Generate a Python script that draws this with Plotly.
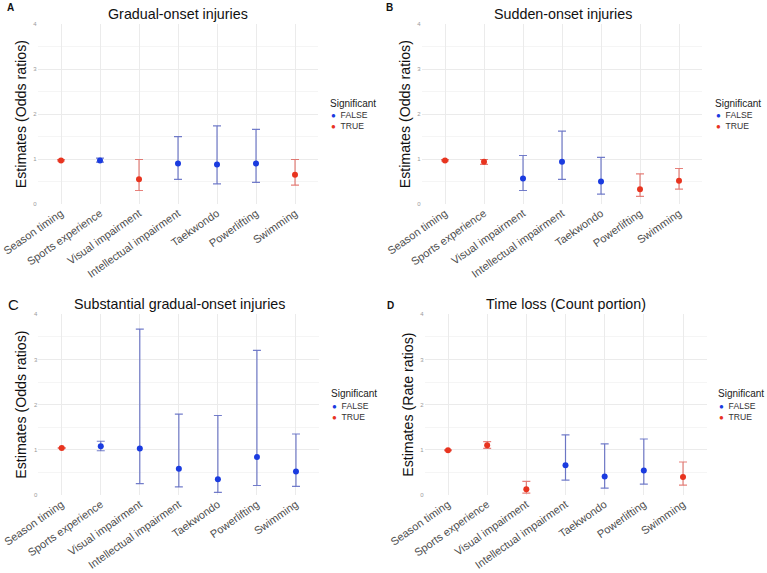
import plotly.graph_objects as go

categories = ["Season timing", "Sports experience", "Visual impairment",
              "Intellectual impairment", "Taekwondo", "Powerlifting", "Swimming"]
y_ticks = [0, 1, 2, 3, 4]

# Panel A: Gradual-onset injuries (odds ratios)
est_a = [0.97, 0.97, 0.55, 0.90, 0.88, 0.90, 0.65]
lo_a = [0.96, 0.93, 0.30, 0.55, 0.45, 0.48, 0.42]
hi_a = [0.99, 1.02, 0.99, 1.50, 1.74, 1.66, 0.99]
sig_a = [True, False, True, False, False, False, True]

# Panel B: Sudden-onset injuries (odds ratios)
est_b = [0.97, 0.94, 0.57, 0.94, 0.50, 0.33, 0.52]
lo_b = [0.96, 0.88, 0.30, 0.55, 0.22, 0.17, 0.33]
hi_b = [0.99, 0.99, 1.08, 1.62, 1.04, 0.67, 0.79]
sig_b = [True, True, False, False, False, True, True]

# Panel C: Substantial gradual-onset injuries (odds ratios)
est_c = [1.04, 1.08, 1.03, 0.58, 0.35, 0.84, 0.52]
lo_c = [1.03, 0.98, 0.25, 0.18, 0.06, 0.21, 0.19]
hi_c = [1.05, 1.19, 3.67, 1.79, 1.76, 3.20, 1.35]
sig_c = [True, False, False, False, False, False, False]

# Panel D: Time loss, count portion (rate ratios)
est_d = [0.99, 1.10, 0.13, 0.66, 0.41, 0.54, 0.40]
lo_d = [0.98, 1.03, 0.04, 0.33, 0.15, 0.24, 0.22]
hi_d = [1.00, 1.18, 0.30, 1.33, 1.13, 1.24, 0.73]
sig_d = [True, True, True, False, False, False, True]

titles = ["Gradual-onset injuries", "Sudden-onset injuries",
          "Substantial gradual-onset injuries", "Time loss (Count portion)"]
ytitles = ["Estimates (Odds ratios)", "Estimates (Odds ratios)",
           "Estimates (Odds ratios)", "Estimates (Rate ratios)"]
letters = ["<b>A</b>", "<b>B</b>", "C", "<b>D</b>"]
legend_title = "Significant"

W, H = 767, 573
FONT = "Liberation Sans, Arial, sans-serif"


def px(x):
    return x / W


def py(y):
    return 1 - y / H


# pixel layout of each panel: (left, right, top(y=4), bottom(y=0))
boxes = [(37.6, 318.4, 24.3, 204.0),
         (421.6, 702.4, 24.3, 204.0),
         (38.3, 319.4, 314.3, 495.0),
         (424.5, 706.5, 314.3, 495.0)]
title_pos = [(178, 14), (563, 14), (179, 304), (566, 304)]
letter_pos = [(10, 8), (389, 8), (14, 304), (391, 305)]
letter_size = [10, 10, 15, 10]
# legend: (title left x, title y, dot x, FALSE y, TRUE y)
legend_pos = [(328, 103.5, 332.5, 116, 125.5),
              (713, 103.5, 717.5, 116, 126),
              (329, 393.5, 333.5, 406, 416),
              (715.5, 393.5, 720, 406, 416)]

panels = [(est_a, lo_a, hi_a, sig_a), (est_b, lo_b, hi_b, sig_b),
          (est_c, lo_c, hi_c, sig_c), (est_d, lo_d, hi_d, sig_d)]

groups = [(False, "FALSE", "#1a3be0", "rgba(40,55,175,0.65)"),
          (True, "TRUE", "#e8341f", "rgba(215,45,35,0.6)")]

fig = go.Figure()
layout = dict(width=W, height=H, margin=dict(l=0, r=0, t=0, b=0),
              paper_bgcolor="white", plot_bgcolor="white", showlegend=False,
              font=dict(family=FONT, color="#222"), annotations=[])


def ann(text, x, y, size, color="#111", xanchor="center"):
    return dict(text=text, x=px(x), y=py(y), xref="paper", yref="paper",
                showarrow=False, xanchor=xanchor, yanchor="middle",
                font=dict(size=size, color=color, family=FONT))


for i, (est, lo, hi, sig) in enumerate(panels):
    n = i + 1
    xa = "x" if n == 1 else f"x{n}"
    ya = "y" if n == 1 else f"y{n}"
    for flag, name, col, barcol in groups:
        idx = [k for k in range(len(categories)) if sig[k] == flag]
        fig.add_trace(go.Scatter(
            x=[categories[k] for k in idx],
            y=[est[k] for k in idx],
            mode="markers",
            name=name,
            marker=dict(color=col, size=6),
            error_y=dict(type="data", symmetric=False,
                         array=[hi[k] - est[k] for k in idx],
                         arrayminus=[est[k] - lo[k] for k in idx],
                         color=barcol, thickness=1.2, width=4),
            xaxis=xa, yaxis=ya, cliponaxis=False,
        ))
    l, r, t, b = boxes[i]
    layout["xaxis" if n == 1 else f"xaxis{n}"] = dict(
        domain=[px(l), px(r)], anchor=ya, type="category",
        categoryorder="array", categoryarray=categories, automargin=False,
        range=[-0.6, 6.6], showgrid=True, gridcolor="#ebebeb", gridwidth=1,
        zeroline=False, showline=False, ticks="", tickangle=-35,
        tickfont=dict(size=11, color="#4d4d4d", family=FONT))
    layout["yaxis" if n == 1 else f"yaxis{n}"] = dict(
        domain=[py(b), py(t)], anchor=xa, range=[0, 4], automargin=False,
        tickvals=y_ticks, showgrid=True, gridcolor="#ebebeb", gridwidth=1,
        minor=dict(dtick=0.5, tick0=0, showgrid=True, gridcolor="#f5f5f5"),
        zeroline=False, showline=False, ticks="",
        tickfont=dict(size=6, color="#9a9a9a", family=FONT),
        title=dict(text=ytitles[i], font=dict(size=14.2, color="#111"), standoff=3))
    tx, ty = title_pos[i]
    layout["annotations"].append(ann(titles[i], tx, ty, 14.3))
    cx, cy = letter_pos[i]
    layout["annotations"].append(ann(letters[i], cx, cy, letter_size[i]))
    # legend (Significant)
    lx, lty, dx, fy, ty2 = legend_pos[i]
    layout["annotations"].append(ann(legend_title, lx, lty, 10, "#222", "left"))
    lines = [f"<span style='color:{col};font-size:8px'>●</span>  {name}"
             for flag, name, col, barcol in groups]
    layout["annotations"].append(ann("<br>".join(lines), dx - 3.5, (fy + ty2) / 2,
                                     8.6, "#333", "left"))
    layout["annotations"][-1]["align"] = "left"

fig.update_layout(**layout)
# remove the default 8px page margin so the figure fills the window exactly
fig.write_html("out.html", config={"displayModeBar": False},
               post_script="document.body.style.margin='0px';"
                           "document.body.style.overflow='hidden';")
